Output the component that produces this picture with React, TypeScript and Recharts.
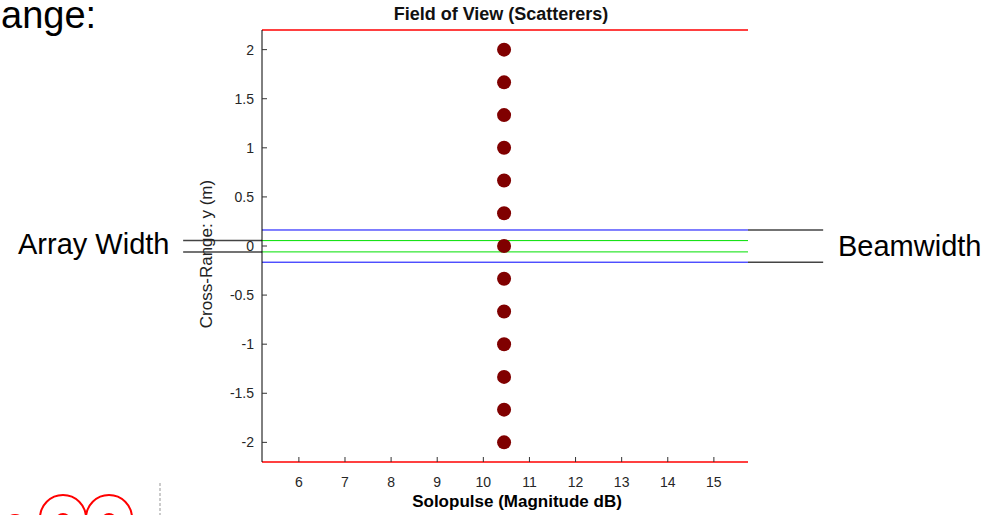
import React from 'react';
import { ScatterChart, Scatter, XAxis, YAxis, ReferenceLine } from 'recharts';

// scatterer positions
const scatterX = [10.45, 10.45, 10.45, 10.45, 10.45, 10.45, 10.45, 10.45, 10.45, 10.45, 10.45, 10.45, 10.45];
const scatterY = [2, 1.667, 1.333, 1, 0.667, 0.333, 0, -0.333, -0.667, -1, -1.333, -1.667, -2];

const xTicks = [6, 7, 8, 9, 10, 11, 12, 13, 14, 15];
const yTicks = [-2, -1.5, -1, -0.5, 0, 0.5, 1, 1.5, 2];

const X_DOMAIN = [5.2, 15.74];
const Y_DOMAIN = [-2.2, 2.2];

// beamwidth (blue) and array width (green) limits
const beamEdges = [0.163, -0.165];
const arrayEdges = [0.055, -0.06];

// where the outside annotation leaders end, in x units
const arrayLeaderStart = 3.49;
const beamLeaderEnd = 17.37;

const data = scatterX.map((x, i) => ({ x, y: scatterY[i] }));

const FONT = '"Liberation Sans", Arial, sans-serif';
const TICK_COLOR = '#262626';

const XTick = (props: any) => {
  const { x, y, payload } = props;
  const axisY = y - 14;
  return (
    <g>
      <line x1={x} x2={x} y1={axisY} y2={axisY - 5} stroke="#333" />
      <text x={x} y={y} dy={11} textAnchor="middle" fontSize={14} fontFamily={FONT} fill={TICK_COLOR}>
        {payload.value}
      </text>
    </g>
  );
};

const YTick = (props: any) => {
  const { x, y, payload } = props;
  const axisX = x + 8;
  return (
    <g>
      <line x1={axisX} x2={axisX + 5} y1={y} y2={y} stroke="#333" />
      <text x={x} y={y} dy={5} textAnchor="end" fontSize={14} fontFamily={FONT} fill={TICK_COLOR}>
        {payload.value}
      </text>
    </g>
  );
};

const Dot = (props: any) => <circle cx={props.cx} cy={props.cy} r={7} fill="#800000" />;

const App: React.FC = () => {
  return (
    <div style={{ position: 'absolute', left: 0, top: 0, width: 988, height: 515, background: '#fff', fontFamily: FONT, overflow: 'hidden' }}>
      <ScatterChart width={988} height={515} margin={{ top: 30, right: 240, bottom: 0, left: 0 }}>
        <XAxis
          type="number"
          dataKey="x"
          domain={X_DOMAIN}
          ticks={xTicks}
          allowDataOverflow
          height={53}
          axisLine={{ stroke: '#ff0000', strokeWidth: 1.5 }}
          tickLine={false}
          tickSize={0}
          tickMargin={14}
          tick={<XTick />}
          label={{
            content: (p: any) => (
              <text
                x={p.viewBox.x + p.viewBox.width / 2 + 12}
                y={p.viewBox.y + 45}
                textAnchor="middle"
                fontSize={17}
                fontWeight="bold"
                fontFamily={FONT}
                fill="#000"
              >
                Solopulse (Magnitude dB)
              </text>
            ),
          }}
        />
        <YAxis
          type="number"
          dataKey="y"
          domain={Y_DOMAIN}
          ticks={yTicks}
          allowDataOverflow
          width={262}
          axisLine={{ stroke: '#000' }}
          tickLine={false}
          tickSize={0}
          tickMargin={8}
          tick={<YTick />}
          label={{
            content: (p: any) => {
              const cx = p.viewBox.x + p.viewBox.width - 50;
              const cy = p.viewBox.y + p.viewBox.height / 2 + 8;
              return (
                <text
                  x={cx}
                  y={cy}
                  transform={`rotate(-90 ${cx} ${cy})`}
                  textAnchor="middle"
                  fontSize={17}
                  fontFamily={FONT}
                  fill="#222"
                >
                  Cross-Range: y (m)
                </text>
              );
            },
          }}
        />
        <ReferenceLine y={Y_DOMAIN[1]} stroke="#ff0000" strokeWidth={1.5} />
        {beamEdges.map((v, i) => (
          <ReferenceLine key={`b${i}`} y={v} stroke="#0000ff" strokeWidth={1} />
        ))}
        {arrayEdges.map((v, i) => (
          <ReferenceLine key={`g${i}`} y={v} stroke="#00e000" strokeWidth={1} />
        ))}
        {arrayEdges.map((v, i) => (
          <ReferenceLine
            key={`al${i}`}
            segment={[{ x: arrayLeaderStart, y: v }, { x: X_DOMAIN[0], y: v }]}
            ifOverflow="visible"
            stroke="#444"
            strokeWidth={1.5}
          />
        ))}
        {beamEdges.map((v, i) => (
          <ReferenceLine
            key={`bl${i}`}
            segment={[{ x: X_DOMAIN[1], y: v }, { x: beamLeaderEnd, y: v }]}
            ifOverflow="visible"
            stroke="#444"
            strokeWidth={1.5}
          />
        ))}
        <Scatter data={data} shape={<Dot />} isAnimationActive={false} />
      </ScatterChart>

      <div style={{ position: 'absolute', left: 501, top: 4, transform: 'translateX(-50%)', fontSize: 18, fontWeight: 'bold', whiteSpace: 'nowrap', color: '#111' }}>
        Field of View (Scatterers)
      </div>
      <div style={{ position: 'absolute', left: 1, top: -7, fontSize: 38, lineHeight: '44px', whiteSpace: 'nowrap', color: '#000' }}>ange:</div>
      <div style={{ position: 'absolute', left: 18, top: 228, fontSize: 29, whiteSpace: 'nowrap', color: '#000' }}>Array Width</div>
      <div style={{ position: 'absolute', left: 838, top: 230, fontSize: 29, whiteSpace: 'nowrap', color: '#000' }}>Beamwidth</div>

      <svg width={200} height={60} style={{ position: 'absolute', left: 0, top: 455 }}>
        <circle cx={63} cy={63} r={23} fill="none" stroke="#ff0000" strokeWidth={2} />
        <circle cx={109} cy={63} r={23} fill="none" stroke="#ff0000" strokeWidth={2} />
        <circle cx={63} cy={66} r={7} fill="none" stroke="#ff0000" strokeWidth={2} />
        <circle cx={109} cy={66} r={7} fill="none" stroke="#ff0000" strokeWidth={2} />
        <circle cx={15} cy={70} r={10} fill="none" stroke="#ff0000" strokeWidth={2} />
        <line x1={160} x2={160} y1={28} y2={60} stroke="#bbb" strokeWidth={1.5} strokeDasharray="3 2" />
      </svg>
    </div>
  );
};

export default App;
